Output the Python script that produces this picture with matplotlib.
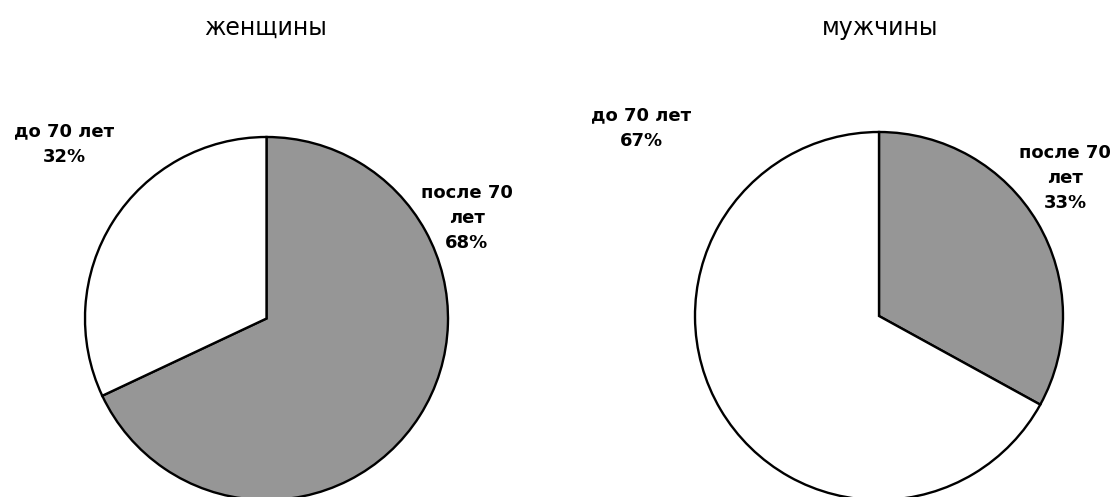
import matplotlib
matplotlib.use('Agg')
import matplotlib.pyplot as plt

plt.rcParams['font.family'] = ['DejaVu Sans']

# доли по возрастным группам, %
groups = ['после 70\nлет', 'до 70 лет']
women = [68, 32]
men = [33, 67]
titles = ['женщины', 'мужчины']
colors = ['#969696', '#ffffff']

W, H = 1113, 497
fig = plt.figure(figsize=(W / 100, H / 100), dpi=100)

# центр и радиус каждой диаграммы в пикселях
centers = [(266.5, 318.5, 181.5), (879, 316, 184)]

def add_pie(cx, cy, r, values):
    ax = fig.add_axes([(cx - r) / W, (H - cy - r) / H, 2 * r / W, 2 * r / H])
    ax.pie(values, colors=colors, startangle=90, counterclock=False, radius=1,
           wedgeprops=dict(edgecolor='black', linewidth=1.7))
    ax.set_xlim(-1, 1)
    ax.set_ylim(-1, 1)
    ax.set_aspect('equal')
    ax.axis('off')
    for p in ax.patches:
        p.set_clip_on(False)
    return ax

for (cx, cy, r), vals in zip(centers, [women, men]):
    add_pie(cx, cy, r, vals)

lab = dict(fontsize=13, fontweight='bold', ha='center', va='center', linespacing=1.5)

fig.text(266 / W, 1 - 28 / H, titles[0], fontsize=17, ha='center', va='center')
fig.text(880 / W, 1 - 28 / H, titles[1], fontsize=17, ha='center', va='center')

fig.text(64 / W, 1 - 144 / H, f'{groups[1]}\n{women[1]}%', **lab)
fig.text(467 / W, 1 - 218 / H, f'{groups[0]}\n{women[0]}%', **lab)
fig.text(641 / W, 1 - 128 / H, f'{groups[1]}\n{men[1]}%', **lab)
fig.text(1065 / W, 1 - 178 / H, f'{groups[0]}\n{men[0]}%', **lab)

plt.savefig('out.png', dpi=100)
plt.close()
